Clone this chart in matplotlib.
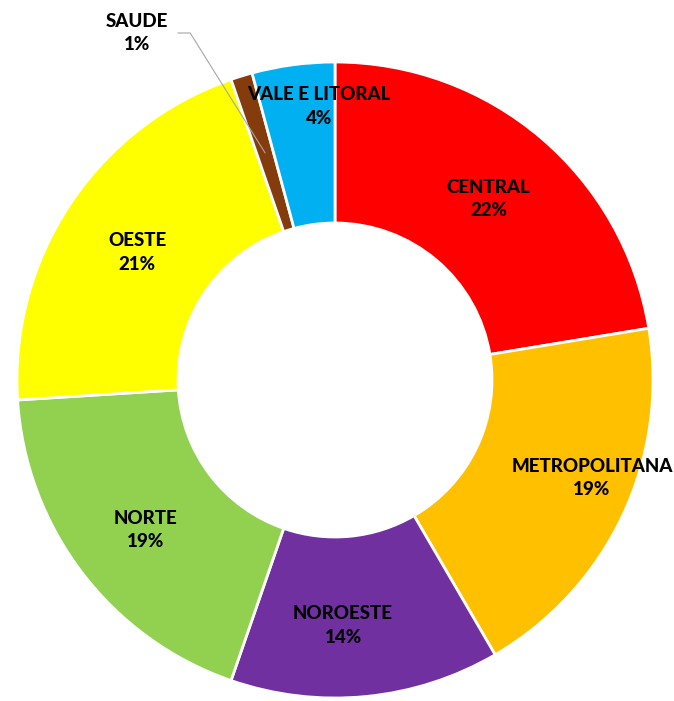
import numpy as np
import matplotlib
matplotlib.use("Agg")
import matplotlib.pyplot as plt

# dados (percentuais)
regioes = ["CENTRAL", "METROPOLITANA", "NOROESTE", "NORTE", "OESTE", "SAUDE", "VALE E LITORAL"]
valores = [22.4, 19.2, 13.7, 18.7, 20.7, 1.1, 4.2]
rotulos_pct = ["22%", "19%", "14%", "19%", "21%", "1%", "4%"]
cores = ["#FF0000", "#FFC000", "#7030A0", "#92D050", "#FFFF00", "#843C0C", "#00B0F0"]

# ajuste fino dos rotulos (px, em relacao ao meio do anel)
desloc = {
    "CENTRAL": (0, 0),
    "METROPOLITANA": (42, 3),
    "NOROESTE": (-15, -9),
    "NORTE": (0, -6),
    "OESTE": (0, -4),
    "VALE E LITORAL": (15, 38),
}
pos_saude = (-198, 347)  # rotulo externo com linha guia

W, H = 674, 701
cx, cy = 335, 380
R_ext, R_int = 318, 157

fig = plt.figure(figsize=(W / 100, H / 100), dpi=100)
ax = fig.add_axes([0, 0, 1, 1])

wedges, _ = ax.pie(valores, colors=cores, startangle=90, counterclock=False,
                   radius=R_ext, center=(0, 0),
                   wedgeprops=dict(width=R_ext - R_int, edgecolor="white", linewidth=2))

fonte = dict(family=["Lato", "DejaVu Sans"], fontweight="black",
             fontsize=13.5, color="black", ha="center", va="center", linespacing=1.45)

r_meio = (R_ext + R_int) / 2
for w, nome, pct in zip(wedges, regioes, rotulos_pct):
    ang = np.deg2rad((w.theta1 + w.theta2) / 2)
    x, y = r_meio * np.cos(ang), r_meio * np.sin(ang)
    if nome == "SAUDE":
        ax.annotate(nome + "\n" + pct, xy=(x, y), xytext=pos_saude,
                    textcoords="data", **fonte,
                    arrowprops=dict(arrowstyle="-", color="#A6A6A6", lw=0.8,
                                    connectionstyle="angle,angleA=0,angleB=122,rad=0",
                                    shrinkA=5, shrinkB=0, relpos=(1.0, 0.5)))
        continue
    dx, dy = desloc[nome]
    ax.text(x + dx, y + dy, nome + "\n" + pct, **fonte)

ax.set_xlim(-cx, W - cx)
ax.set_ylim(-(H - cy), cy)
ax.set_aspect("equal")
ax.axis("off")

fig.savefig("out.png", dpi=100, facecolor="white")
